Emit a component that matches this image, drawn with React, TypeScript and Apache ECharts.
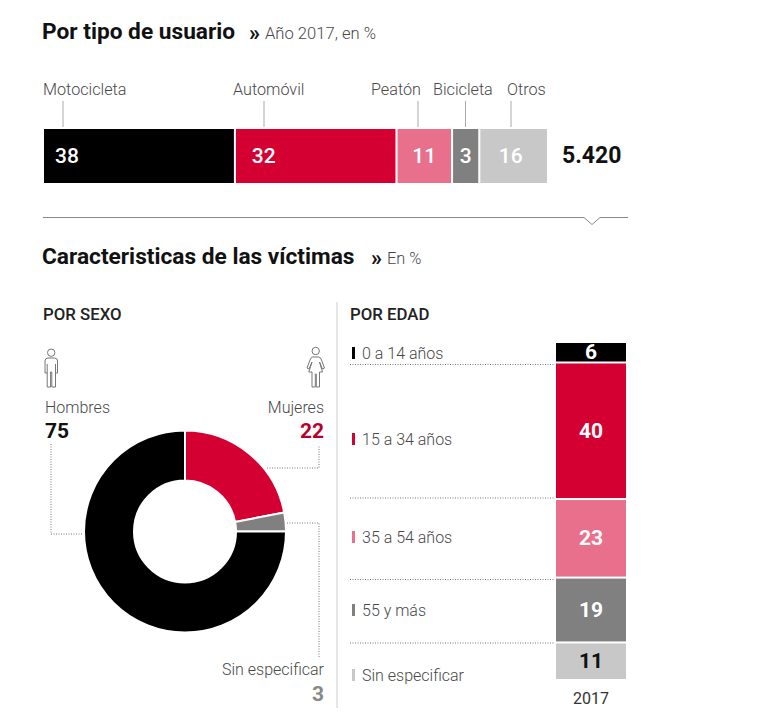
import React, { useEffect, useRef } from "react";
import * as echarts from "echarts";

const BLACK = "#000000";
const RED = "#d50032";
const PINK = "#e8708c";
const GRAY = "#808080";
const LIGHT = "#c8c8c8";
const TEXT = "#484848";
const FONT = "Roboto";

const userCategories = ["Motocicleta", "Automóvil", "Peatón", "Bicicleta", "Otros"];
const userLabels = [38, 32, 11, 3, 16];
// Segment lengths as they are drawn in the picture (differ from the printed 3 and 16)
const userDrawnLengths = [38, 32, 11, 5.4, 13.6];
const userColors = [BLACK, RED, PINK, GRAY, LIGHT];
const userTotal = "5.420";

const sexCategories = ["Mujeres", "Sin especificar", "Hombres"];
const sexValues = [22, 3, 75];
const sexColors = [RED, GRAY, BLACK];

const ageCategories = ["0 a 14 años", "15 a 34 años", "35 a 54 años", "55 y más", "Sin especificar"];
const ageValues = [6, 40, 23, 19, 11];
const ageColors = [BLACK, RED, PINK, GRAY, LIGHT];
const ageYear = ["2017"];

const manPath =
  "M47.5,352.7a3.7,3.7 0 1,0 7.4,0a3.7,3.7 0 1,0 -7.4,0 M45,373 L45,361 Q45,358 48,358 L54.5,358 Q57.5,358 57.5,361 L57.5,373 L55.5,373 L55.5,364 M47.2,364 L47.2,373 L45,373 M47.2,373 L47.2,387 L50.6,387 L50.6,372 L51.8,372 L51.8,387 L55.5,387 L55.5,373";
const womanPath =
  "M312,351a3.7,3.7 0 1,0 7.4,0a3.7,3.7 0 1,0 -7.4,0 M312.5,357 L319,357 Q320.5,357 321.5,360 L324.5,368 L322.5,369 L319.5,362 L322.5,372 L319.5,372 L319.5,387 L316.3,387 L316.3,374 L315.3,374 L315.3,387 L312,387 L312,372 L308.8,372 L312,362 L309,369 L307,368 L310,360 Q311,357 312.5,357 Z";

const App = () => {
  const ref = useRef<HTMLDivElement>(null);

  useEffect(() => {
    if (!ref.current) return;
    echarts.graphic.registerShape("manIcon", echarts.graphic.extendPath(manPath, {}));
    echarts.graphic.registerShape("womanIcon", echarts.graphic.extendPath(womanPath, {}));
    const chart = echarts.init(ref.current, undefined, { renderer: "svg" });

    const txt = (
      x: number,
      y: number,
      text: string,
      size: number,
      fill: string,
      weight: any = 400,
      align: string = "left"
    ) => ({
      type: "text",
      x,
      y,
      silent: true,
      style: { text, fontFamily: FONT, fontSize: size, fontWeight: weight, fill, align, verticalAlign: "middle" },
    });
    const line = (points: number[][], stroke: string, lineDash?: number[]) => ({
      type: "polyline",
      silent: true,
      shape: { points },
      style: { fill: "none", stroke, lineWidth: 1, lineDash },
    });
    const dotted = (points: number[][]) => line(points, "#777777", [1, 1.5]);

    const userLabelX = [43, 233, 371, 433, 507];
    const userLeaderX = [63, 264, 418, 465.5, 511];
    const userOffsets = [-72, -52, 0, 0, -3];
    const ageLabelY = [353, 439, 537, 610, 675];
    const ageSeparatorY = [364.5, 498, 579.5, 643];

    const graphicElements: any[] = [
      txt(42, 31, "Por tipo de usuario", 22.7, "#111111", 700),
      txt(249, 32, "»", 22, "#111111", 700),
      txt(265, 33, "Año 2017, en %", 16.6, TEXT, 300),
      ...userCategories.map((c, i) => txt(userLabelX[i], 89, c, 16.2, TEXT, 300)),
      ...userLeaderX.map((x) => line([[x, 101], [x, 127]], "#aaaaaa")),
      txt(562, 155, userTotal, 23, "#111111", 700),
      line([[43, 217.5], [584, 217.5], [592, 224.5], [600, 217.5], [628, 217.5]], "#888888"),
      txt(42, 256, "Caracteristicas de las víctimas", 22.7, "#111111", 700),
      txt(371, 257, "»", 22, "#111111", 700),
      txt(387, 258, "En %", 16.4, TEXT, 300),
      txt(43, 314, "POR SEXO", 16.8, "#222222", 500),
      txt(350, 314, "POR EDAD", 16.8, "#222222", 500),
      line([[337, 302], [337, 708]], "#cccccc"),
      { type: "manIcon", x: 0, y: 0, silent: true, style: { fill: "none", stroke: "#777777", lineWidth: 1 } },
      { type: "womanIcon", x: 0, y: 0, silent: true, style: { fill: "none", stroke: "#777777", lineWidth: 1 } },
      txt(45, 407, sexCategories[2], 16, TEXT, 300),
      txt(45, 431, String(sexValues[2]), 21, "#111111", 700),
      txt(324, 407, sexCategories[0], 16, TEXT, 300, "right"),
      txt(324, 431, String(sexValues[0]), 21, "#b8002e", 700, "right"),
      txt(324, 669, sexCategories[1], 16, TEXT, 300, "right"),
      txt(324, 694, String(sexValues[1]), 21, "#888888", 700, "right"),
      dotted([[51, 444], [51, 534], [82, 534]]),
      dotted([[267, 468], [319, 468], [319, 445]]),
      dotted([[287, 523], [319, 523], [319, 658]]),
      ...ageCategories.flatMap((c, i) => [
        {
          type: "rect",
          silent: true,
          shape: { x: 352, y: ageLabelY[i] - 6, width: 3, height: 12 },
          style: { fill: ageColors[i] },
        },
        txt(362, ageLabelY[i], c, 16, TEXT, 300),
      ]),
      ...ageSeparatorY.map((y) => dotted([[350, y], [555, y]])),
    ];

    chart.setOption({
      animation: false,
      backgroundColor: "#ffffff",
      grid: [
        { left: 43, top: 128, width: 505, height: 56 },
        { left: 555, top: 342, width: 72, height: 338 },
      ],
      xAxis: [
        { type: "value", gridIndex: 0, min: 0, max: 100, show: false },
        {
          type: "category",
          gridIndex: 1,
          data: ageYear,
          position: "bottom",
          axisLine: { show: false },
          axisTick: { show: false },
          axisLabel: { fontFamily: FONT, fontSize: 16, color: "#333333", margin: 10 },
        },
      ],
      yAxis: [
        { type: "category", gridIndex: 0, data: ["Usuarios"], show: false },
        { type: "value", gridIndex: 1, min: 0, max: 99, inverse: true, show: false },
      ],
      series: [
        ...userCategories.map((name, i) => ({
          type: "bar",
          name,
          stack: "usuarios",
          xAxisIndex: 0,
          yAxisIndex: 0,
          barWidth: 56,
          data: [userDrawnLengths[i]],
          itemStyle: { color: userColors[i], borderColor: "#ffffff", borderWidth: 1 },
          label: {
            show: true,
            position: "inside",
            offset: [userOffsets[i], 0],
            formatter: () => String(userLabels[i]),
            fontFamily: FONT,
            fontSize: 21,
            fontWeight: 500,
            color: "#ffffff",
          },
        })),
        ...ageCategories.map((name, i) => ({
          type: "bar",
          name,
          stack: "edad",
          xAxisIndex: 1,
          yAxisIndex: 1,
          barWidth: 72,
          data: [ageValues[i]],
          itemStyle: { color: ageColors[i], borderColor: "#ffffff", borderWidth: 1 },
          label: {
            show: true,
            position: "inside",
            fontFamily: FONT,
            fontSize: 21,
            fontWeight: 700,
            color: i === 4 ? "#111111" : "#ffffff",
          },
        })),
        {
          type: "pie",
          center: [185, 531.5],
          radius: [51, 101],
          startAngle: 90,
          clockwise: true,
          label: { show: false },
          labelLine: { show: false },
          silent: true,
          data: sexCategories.map((name, i) => ({
            name,
            value: sexValues[i],
            itemStyle: { color: sexColors[i], borderColor: "#ffffff", borderWidth: 2 },
          })),
        },
      ],
      graphic: { elements: graphicElements },
    });

    return () => chart.dispose();
  }, []);

  return (
    <div
      ref={ref}
      style={{ position: "absolute", left: 0, top: 0, width: 768, height: 720, background: "#ffffff" }}
    />
  );
};

export default App;
